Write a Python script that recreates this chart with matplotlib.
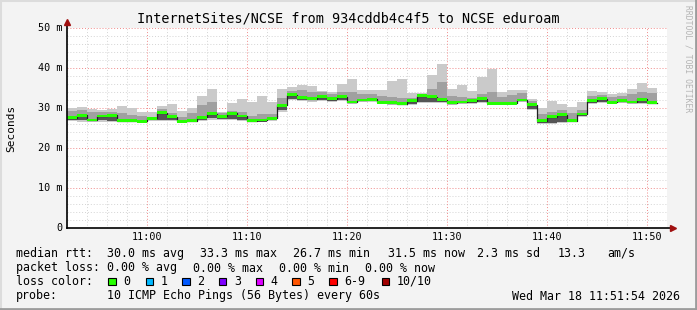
import numpy as np
import matplotlib
matplotlib.use("Agg")
import matplotlib.pyplot as plt
from matplotlib.lines import Line2D
from matplotlib.patches import Rectangle

W, H = 697, 310
MONO = "DejaVu Sans Mono"

# one bin per minute starting at 10:52, values in ms
ping_med = [27.6, 28.2, 27.0, 28.0, 28.2, 26.8, 26.8, 26.7, 27.4, 28.8,
            27.8, 26.7, 26.8, 27.7, 28.6, 27.9, 28.7, 28.0, 26.8, 27.0,
            27.4, 30.7, 33.3, 32.7, 32.3, 32.8, 32.3, 32.8, 31.5, 32.0,
            32.2, 31.4, 31.3, 31.1, 31.8, 33.1, 32.8, 32.1, 31.3, 31.5,
            31.8, 32.3, 31.2, 31.2, 31.2, 32.0, 30.8, 26.8, 27.8, 28.3,
            26.8, 28.5, 31.8, 32.3, 31.4, 31.8, 31.5, 32.2, 31.3]
ping_max = [30.0, 30.2, 29.7, 29.4, 29.8, 30.5, 30.0, 28.9, 29.1, 30.5,
            31.0, 29.3, 29.9, 33.0, 34.8, 29.0, 31.3, 32.3, 31.6, 33.1,
            31.6, 34.8, 35.3, 35.8, 35.5, 34.3, 34.1, 36.0, 37.2, 34.5,
            34.5, 34.5, 36.8, 37.3, 33.8, 33.8, 38.3, 41.0, 34.8, 35.8,
            34.3, 37.8, 39.8, 34.1, 34.5, 34.5, 32.3, 29.9, 31.8, 31.0,
            30.3, 31.5, 34.3, 34.1, 33.5, 33.8, 34.8, 36.2, 34.9]
ping_q75 = [29.3, 29.6, 29.0, 28.9, 29.0, 28.8, 28.3, 28.0, 27.6, 29.8,
            28.8, 27.8, 28.8, 30.7, 31.4, 28.7, 29.2, 29.0, 27.9, 28.4,
            28.5, 32.5, 34.3, 34.5, 34.0, 33.9, 33.4, 34.0, 34.0, 33.5,
            33.6, 33.0, 32.8, 32.6, 32.6, 33.5, 34.8, 36.5, 33.0, 32.7,
            32.6, 33.5, 34.0, 32.8, 33.3, 33.8, 31.8, 28.6, 29.0, 29.6,
            28.8, 29.4, 33.0, 33.3, 32.8, 32.9, 33.4, 34.0, 33.8]
ping_q25 = [27.0, 27.0, 26.7, 27.0, 26.8, 26.6, 26.6, 26.6, 26.9, 27.0,
            27.0, 26.5, 26.6, 27.0, 27.4, 27.3, 27.2, 27.0, 26.6, 26.6,
            26.9, 29.5, 32.2, 32.0, 31.9, 32.1, 31.8, 32.0, 31.3, 31.8,
            31.8, 31.2, 31.0, 30.9, 31.0, 31.6, 31.6, 31.5, 31.0, 31.2,
            31.3, 31.5, 31.0, 31.0, 31.0, 31.8, 29.7, 26.3, 26.3, 26.6,
            26.6, 28.0, 31.3, 31.5, 31.2, 31.4, 31.2, 31.3, 31.2]
ping_min = [26.7, 26.6, 26.5, 26.6, 26.6, 26.4, 26.4, 26.4, 26.7, 26.8,
            26.7, 26.3, 26.5, 26.7, 27.0, 27.0, 26.9, 26.7, 26.4, 26.5,
            26.7, 29.0, 31.9, 31.8, 31.6, 31.8, 31.6, 31.7, 31.0, 31.6,
            31.5, 30.9, 30.8, 30.7, 30.7, 31.2, 31.3, 31.2, 30.8, 31.0,
            31.1, 31.2, 30.8, 30.8, 30.8, 31.5, 29.4, 26.1, 26.1, 26.2,
            26.4, 27.8, 31.0, 31.3, 31.0, 31.2, 31.0, 31.0, 30.9]

x_tick_pos = [8, 18, 28, 38, 48, 58]
x_tick_labels = ["11:00", "11:10", "11:20", "11:30", "11:40", "11:50"]
y_ticks = [0, 10, 20, 30, 40, 50]
y_tick_labels = ["0", "10 m", "20 m", "30 m", "40 m", "50 m"]

loss_names = ["0", "1", "2", "3", "4", "5", "6-9", "10/10"]
loss_colors = ["#26ff00", "#00b8ff", "#0059ff", "#7e00ff",
               "#dd00ff", "#ff5500", "#ff0000", "#a10000"]


def fx(px):
    return px / W


def fy(py):
    return 1 - py / H


fig = plt.figure(figsize=(W / 100, H / 100), dpi=100, facecolor="#f3f3f3")
ax = fig.add_axes([fx(67), fy(228), 600 / W, 200 / H], facecolor="white")
ax.set_xlim(0, 60)
ax.set_ylim(0, 50)
for s in ax.spines.values():
    s.set_visible(False)
ax.set_xticks([])
ax.set_yticks([])

# grid, rrdtool style
dots = (0, (1, 2))
for v in range(2, 51, 2):
    if v % 10:
        ax.axhline(v, color="#d4d4d4", lw=0.7, ls=dots, zorder=0)
    else:
        ax.axhline(v, color="#f08a8a", lw=0.7, ls=dots, zorder=0.5)
for m in range(0, 61, 2):
    if m in x_tick_pos:
        ax.axvline(m, color="#f08a8a", lw=0.7, ls=dots, zorder=0.5)
    else:
        ax.axvline(m, color="#d4d4d4", lw=0.7, ls=dots, zorder=0)

# smoke
n = len(ping_med)
xs = np.arange(n + 1)
def ext(a):
    return np.append(a, a[-1])

med = np.array(ping_med)
ax.fill_between(xs, ext(ping_min), ext(ping_max), step="post", color="#cacaca", lw=0, zorder=1)
ax.fill_between(xs, ext(ping_q25), ext(ping_q75), step="post", color="#a0a0a0", lw=0, zorder=2)
ax.fill_between(xs, ext(ping_q25), ext(med), step="post", color="#555555", lw=0, zorder=3)

# median line + loss colour band
ax.step(xs, ext(med), where="post", color="#202020", lw=0.9, zorder=4)
ax.fill_between(xs, ext(med - 0.35), ext(med + 0.35), step="post",
                color=loss_colors[0], lw=0, zorder=5)

# axes with arrows
ax.plot([0, 60.6], [0, 0], color="black", lw=1.2, clip_on=False, zorder=6)
ax.plot([0, 0], [0, 51.6], color="black", lw=1.2, clip_on=False, zorder=6)
ax.plot(60.6, 0, marker=">", ms=4.5, color="#a01010", clip_on=False, zorder=7)
ax.plot(0, 51.6, marker="^", ms=4.5, color="#a01010", clip_on=False, zorder=7)

# tick labels
for v, lab in zip(y_ticks, y_tick_labels):
    fig.text(fx(62), fy(228 - v * 4), lab, ha="right", va="center",
             fontsize=7.3, family=MONO)
for m, lab in zip(x_tick_pos, x_tick_labels):
    fig.text(fx(67 + m * 10), fy(237), lab, ha="center", va="center",
             fontsize=7.3, family=MONO)

fig.text(fx(348), fy(19), "InternetSites/NCSE from 934cddb4c4f5 to NCSE eduroam",
         ha="center", va="center", fontsize=9.75, family=MONO)
fig.text(fx(11), fy(128), "Seconds", rotation=90, ha="center", va="center",
         fontsize=8, family=MONO)
fig.text(fx(688), fy(5), "RRDTOOL / TOBI OETIKER", rotation=270, ha="center",
         va="top", fontsize=5.8, family=MONO, color="#b4b4b4")

# legend block
fs = 8.4
rows = {
    253.5: [(16, "median rtt:"), (107, "30.0 ms avg"), (200, "33.3 ms max"),
            (293, "26.7 ms min"), (388, "31.5 ms now"), (477, "2.3 ms sd"),
            (558, "13.3"), (607, "am/s")],
    268: [(16, "packet loss:"), (107, "0.00 % avg"), (193, "0.00 % max"),
          (279, "0.00 % min"), (365, "0.00 % now")],
    281.5: [(16, "loss color:")],
    296: [(16, "probe:"), (107, "10 ICMP Echo Pings (56 Bytes) every 60s")],
}
for yy, items in rows.items():
    for xx, t in items:
        fig.text(fx(xx), fy(yy), t, ha="left", va="center", fontsize=fs, family=MONO)

sw_x = [108.3, 145.7, 182.3, 219, 255.7, 292.3, 329.3, 381.7]
for xx, name, col in zip(sw_x, loss_names, loss_colors):
    fig.add_artist(Rectangle((fx(xx), fy(285.2)), 7.4 / W, 7.4 / H, facecolor=col,
                             edgecolor="black", lw=0.8, transform=fig.transFigure))
    fig.text(fx(xx + 15), fy(281.5), name, ha="left", va="center", fontsize=fs, family=MONO)

fig.text(fx(680), fy(296), "Wed Mar 18 11:51:54 2026", ha="right", va="center",
         fontsize=fs, family=MONO)

# 3d frame
fig.add_artist(Line2D([0, 1], [fy(0.5), fy(0.5)], color="#dcdcdc", lw=1.5, transform=fig.transFigure))
fig.add_artist(Line2D([fx(0.5), fx(0.5)], [0, 1], color="#dcdcdc", lw=1.5, transform=fig.transFigure))
fig.add_artist(Line2D([0, 1], [fy(309), fy(309)], color="#9c9c9c", lw=2, transform=fig.transFigure))
fig.add_artist(Line2D([fx(696), fx(696)], [0, 1], color="#9c9c9c", lw=2, transform=fig.transFigure))

fig.savefig("out.png", dpi=100, facecolor=fig.get_facecolor())
